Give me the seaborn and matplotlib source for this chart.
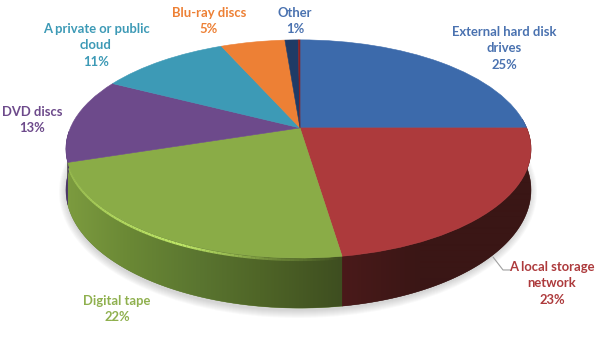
import numpy as np
import matplotlib
matplotlib.use("Agg")
import matplotlib.pyplot as plt
import matplotlib.transforms as mtransforms
from matplotlib.patches import Ellipse, Polygon
from matplotlib.collections import LineCollection
import seaborn as sns

# ================= DATA =================
categories = ["External hard disk\ndrives", "A local storage\nnetwork", "Digital tape", "DVD discs",
              "A private or public\ncloud", "Blu-ray discs", "Other", ""]
pct_labels = ["25%", "23%", "22%", "13%", "11%", "5%", "1%", ""]
slice_values = [25.0, 22.6, 22.4, 12.6, 10.8, 5.35, 1.1, 0.15]

# ================= STYLE =================
top_colors = ["#3c6aab", "#ad3a3c", "#8aac47", "#6d4a8b", "#3d9ab6", "#ed8035", "#1f3b66", "#8b1f20"]
label_colors = ["#4a72b0", "#ad3a3c", "#8fb04e", "#6d4a8b", "#3d9ab6", "#ed8035", "#4a72b0", "#000000"]
label_xy = [(504, 48), (552, 283), (117, 309), (32, 120), (96, 45), (209, 21), (295, 21), None]

PX_W, PX_H = 600, 363
APEX_X, APEX_Y = 300, 128
A, B, K = 227.6, 105.0, 0.1927  # perspective of the top disc


class Tilt(mtransforms.Transform):
    """Unit circle -> tilted disc, apex at (0,0), in pixels"""
    input_dims = 2
    output_dims = 2

    def transform_non_affine(self, values):
        x, y = np.asarray(values).T
        d = 1 + K * y
        # disc sits a little left of the apex
        sx = np.where(x < 0, 1.009, 0.996)
        return np.column_stack([sx * A * x / d, B * y / d])


tilt = Tilt()


def top_edge(theta):
    t = np.radians(theta)
    return tilt.transform(np.column_stack([np.cos(t), np.sin(t)]))


def bottom_edge(theta):
    p = top_edge(theta)
    return np.column_stack([p[:, 0], (p[:, 1] + 21) * 1.083 - 62])


def wall_color(i, x):
    if i == 2:
        xs = [-232, -170, -100, -40, 42]
        r = np.interp(x, xs, [0x7c, 0x6a, 0x5a, 0x4f, 0x3e])
        g = np.interp(x, xs, [0x9b, 0x88, 0x75, 0x65, 0x4e])
        b = np.interp(x, xs, [0x3f, 0x35, 0x30, 0x27, 0x20])
    elif i == 1:
        r = np.interp(x, [42, 120], [0x4a, 0x3a])
        g = np.interp(x, [42, 120], [0x1a, 0x16])
        b = np.interp(x, [42, 120], [0x1a, 0x15])
    else:
        r, g, b = [np.full_like(x, v, dtype=float) for v in (0x4a, 0x35, 0x66)]
    return np.stack([r, g, b], axis=-1) / 255


sns.set_theme(style="white")
plt.rcParams['font.family'] = ['Lato', 'DejaVu Sans']

fig, ax = plt.subplots(figsize=(6, 3.631), dpi=100)
ax.set_position([0, 0, 1, 1])

wedges, _ = ax.pie(slice_values, colors=top_colors, startangle=90, counterclock=False,
                   wedgeprops={'linewidth': 0.4})
ax.set_aspect('auto')

for w, c in zip(wedges, top_colors):
    w.set_edgecolor(c)
    w.set_transform(tilt + ax.transData)
    w.set_zorder(3)

# soft shadow under the disc
for i in range(1, 9):
    ax.add_patch(Ellipse((-2, APEX_Y - 192), 2 * (231 + i), 2 * (118 + i),
                         color='#555555', alpha=0.03, lw=0, zorder=0))

# side wall, only the front part can be seen
grad_x = np.arange(-APEX_X, PX_W - APEX_X) + 0.5
for i, w in enumerate(wedges):
    lo = max(w.theta1, -178)
    hi = min(w.theta2, 5)
    if hi <= lo:
        continue
    th = np.linspace(lo, hi, 120)
    poly = np.vstack([top_edge(th), bottom_edge(th)[::-1]])
    grad = wall_color(i, grad_x)
    mid = wall_color(i, np.array([poly[:, 0].mean()]))[0]
    ax.add_patch(Polygon(poly, closed=True, color=mid, lw=0.3, zorder=1))
    im = ax.imshow(grad[np.newaxis, :, :], aspect='auto', zorder=1.5, interpolation='bilinear',
                   extent=(-APEX_X, PX_W - APEX_X, APEX_Y - PX_H, APEX_Y))
    im.set_clip_path(Polygon(poly, closed=True, transform=ax.transData))

ax.set_aspect('auto')
ax.set_xlim(-APEX_X, PX_W - APEX_X)
ax.set_ylim(APEX_Y - PX_H, APEX_Y)

# bright bevel along the green slice
th = np.linspace(wedges[2].theta1 + 2, wedges[2].theta2, 90)
pts = top_edge(th) - [0, 1.8]
segs = np.stack([pts[:-1], pts[1:]], axis=1)
fade = np.interp(pts[:-1, 0], [-232, -190, -120, -30, 42], [0.4, 0.8, 1.0, 0.3, 0.0])
bevel = np.zeros((len(segs), 4))
bevel[:, :3] = matplotlib.colors.to_rgb('#c0e868')
bevel[:, 3] = fade
ax.add_collection(LineCollection(segs, colors=bevel, linewidths=1.8, zorder=2))

# leader of the storage network label
ax.plot(np.array([493, 503, 510]) - APEX_X, APEX_Y - np.array([257, 270, 270]),
        color='#a0a0a0', lw=0.8, zorder=2)

for name, pct, col, xy in zip(categories, pct_labels, label_colors, label_xy):
    if xy is None:
        continue
    ax.text(xy[0] - APEX_X, APEX_Y - xy[1], f"{name}\n{pct}", color=col, fontsize=9.4, fontweight='bold',
            ha='center', va='center', linespacing=1.45, zorder=4)

ax.axis('off')
fig.savefig('out.png', dpi=100)
